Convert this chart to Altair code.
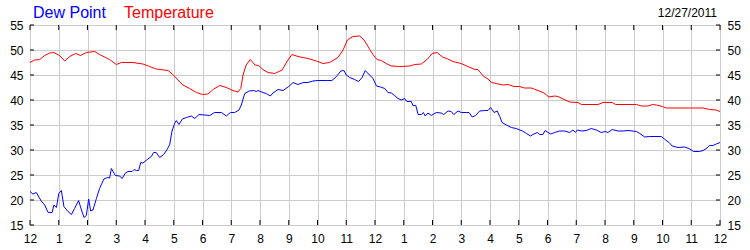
import altair as alt
import pandas as pd

# ---- data ----
temp_hours = [0.0, 0.16, 0.34, 0.51, 0.68, 0.83, 1.03, 1.21, 1.38, 1.59, 1.76, 1.96, 2.25, 2.42, 2.77, 3.0,
              3.18, 3.58, 3.93, 4.16, 4.39, 4.8, 4.97, 5.15, 5.32, 5.55, 5.79, 6.0, 6.19, 6.39, 6.6, 6.83,
              7.06, 7.23, 7.33, 7.41, 7.52, 7.66, 7.83, 7.95, 8.1, 8.28, 8.51, 8.77, 8.95, 9.11, 9.32, 9.67,
              9.96, 10.19, 10.42, 10.71, 10.89, 11.04, 11.23, 11.47, 11.62, 11.81, 11.93, 12.01, 12.07, 12.22,
              12.39, 12.57, 12.86, 13.21, 13.38, 13.61, 13.81, 13.99, 14.16, 14.37, 14.5, 14.71, 15.0, 15.23,
              15.47, 15.58, 15.78, 15.93, 16.05, 16.22, 16.45, 16.63, 16.83, 17.03, 17.2, 17.44, 17.67, 17.88,
              18.05, 18.25, 18.37, 18.54, 18.77, 19.06, 19.18, 19.76, 19.93, 20.25, 20.37, 21.09, 21.27, 21.5,
              21.65, 21.79, 22.0, 22.13, 23.41, 23.64, 23.87, 24.0]
temp_values = [47.5, 48.0, 48.1, 48.9, 49.4, 49.5, 48.9, 47.8, 48.7, 49.3, 48.9, 49.5, 49.7, 49.1, 48.1, 47.1,
               47.5, 47.5, 47.2, 46.7, 46.2, 45.9, 45.1, 44.0, 43.0, 42.3, 41.5, 41.1, 41.2, 42.2, 42.9, 42.5,
               41.9, 41.6, 42.3, 45.0, 47.0, 48.1, 47.0, 46.9, 46.1, 45.5, 45.3, 46.0, 47.8, 49.1, 48.7, 48.3,
               47.8, 47.3, 47.5, 48.5, 50.0, 52.0, 52.7, 52.8, 52.0, 50.2, 49.1, 48.5, 48.1, 47.9,
               47.3, 46.8, 46.7, 46.8, 47.1, 47.2, 48.1, 49.3, 49.5, 48.5, 48.3, 47.7, 47.3, 46.7,
               46.1, 46.1, 44.7, 44.2, 43.5, 43.3, 43.0, 43.1, 42.7, 42.7, 42.4, 42.4, 41.9, 41.4,
               40.6, 40.8, 40.7, 40.2, 39.6, 39.5, 39.1, 39.1, 39.5, 39.5, 39.1, 39.1, 38.8, 38.8,
               39.1, 39.0, 38.7, 38.4, 38.4, 38.1, 38.0, 37.7]

dew_hours = [0.0, 0.1, 0.22, 0.39, 0.51, 0.63, 0.77, 0.83, 0.92, 1.0, 1.09, 1.18, 1.32, 1.44, 1.55, 1.69,
             1.79, 1.88, 1.96, 2.04, 2.11, 2.19, 2.31, 2.42, 2.57, 2.69, 2.77, 2.83, 2.97, 3.12, 3.2, 3.32,
             3.41, 3.55, 3.62, 3.7, 3.78, 3.85, 3.93, 4.1, 4.22, 4.3, 4.39, 4.51, 4.65, 4.77, 4.86, 4.94,
             5.03, 5.09, 5.18, 5.3, 5.44, 5.61, 5.73, 5.88, 6.08, 6.25, 6.42, 6.66, 6.83, 6.97, 7.12, 7.27,
             7.35, 7.47, 7.62, 7.78, 7.87, 7.93, 8.1, 8.22, 8.36, 8.45, 8.63, 8.8, 9.0, 9.15, 9.32, 9.5,
             9.67, 9.84, 10.02, 10.31, 10.5, 10.66, 10.81, 10.92, 11.0, 11.12, 11.29, 11.43, 11.55, 11.66,
             11.81, 11.93, 12.05, 12.19, 12.34, 12.45, 12.57, 12.68, 12.8, 12.92, 13.03, 13.11, 13.26, 13.32,
             13.42, 13.5, 13.62, 13.68, 13.75, 13.84, 13.96, 14.13, 14.3, 14.39, 14.54, 14.65, 14.74, 14.89,
             15.0, 15.17, 15.27, 15.38, 15.5, 15.64, 15.81, 15.93, 16.02, 16.14, 16.25, 16.34, 16.42, 16.57,
             16.74, 16.91, 17.13, 17.27, 17.41, 17.49, 17.65, 17.73, 17.84, 17.92, 18.02, 18.11, 18.25, 18.42,
             18.6, 18.77, 18.89, 18.97, 19.04, 19.18, 19.35, 19.52, 19.7, 19.87, 20.01, 20.1, 20.25, 20.45,
             20.63, 20.8, 21.09, 21.21, 21.38, 21.55, 21.96, 22.11, 22.23, 22.34, 22.54, 22.77, 22.92, 23.08,
             23.29, 23.41, 23.55, 23.64, 23.76, 23.87, 24.0]
dew_values = [21.7, 21.2, 21.5, 19.8, 19.0, 17.5, 17.5, 19.0, 18.5, 21.3, 21.9, 18.7, 17.7, 17.1, 18.3, 19.9,
              18.0, 16.5, 16.9, 20.2, 17.8, 18.0, 20.3, 22.3, 24.2, 24.5, 24.4, 26.3, 24.9, 24.8, 24.3, 25.4,
              25.7, 25.7, 26.1, 25.9, 25.9, 27.5, 27.4, 28.2, 28.7, 29.5, 29.5, 28.5, 29.1, 30.1, 31.1, 33.8,
              35.3, 35.9, 35.1, 36.2, 36.5, 36.8, 36.3, 37.1, 37.0, 36.9, 37.5, 37.5, 36.8, 37.5, 37.5, 38.0,
              39.0, 41.3, 41.8, 41.9, 41.7, 41.9, 41.5, 41.3, 40.8, 41.4, 42.1, 41.9, 42.7, 43.5, 43.1, 43.5,
              43.5, 43.8, 43.9, 43.9, 43.9, 44.7, 45.8, 45.9, 45.0, 44.5, 44.1, 43.7, 44.5, 45.9,
              45.0, 44.3, 42.8, 42.6, 42.3, 41.5, 41.4, 40.9, 40.3, 40.0, 40.3, 39.7, 39.7, 38.9,
              38.9, 37.1, 37.1, 37.5, 36.8, 37.4, 36.9, 37.5, 37.4, 37.1, 37.8, 37.7, 37.1, 37.8,
              37.5, 37.5, 37.5, 36.6, 36.9, 37.8, 37.9, 37.9, 38.5, 37.5, 37.8, 36.7, 35.5, 35.0,
              34.5, 34.3, 33.8, 33.3, 32.8, 33.1, 33.5, 33.1, 33.1, 33.9, 33.5, 33.2, 33.5, 33.8,
              33.8, 33.5, 34.0, 33.5, 34.0, 33.8, 33.9, 34.3, 34.0, 33.5, 33.7, 33.5, 34.1, 33.8,
              33.8, 33.9, 33.7, 33.3, 32.6, 32.7, 32.7, 32.0, 31.5, 30.8, 30.5, 30.6, 30.3, 29.7,
              29.7, 29.9, 30.4, 30.9, 30.9, 31.2, 31.5]

series_names = ["Dew Point", "Temperature"]
series_colors = ["#0000ff", "#ff0000"]
date_label = "12/27/2011"
x_ticks = list(range(0, 25))
y_ticks = [15, 20, 25, 30, 35, 40, 45, 50, 55]

# ---- build tables ----
df = pd.concat([
    pd.DataFrame({"series": series_names[0], "hour": dew_hours, "value": dew_values}),
    pd.DataFrame({"series": series_names[1], "hour": temp_hours, "value": temp_values}),
], ignore_index=True)
xt = pd.DataFrame({"hour": x_ticks})
yt = pd.DataFrame({"v": y_ticks})

W, H = 690, 200
FONT = "Liberation Sans"
xscale = alt.Scale(domain=[0, 24], nice=False)
yscale = alt.Scale(domain=[15, 55], nice=False)

x_axis = alt.Axis(values=x_ticks, title=None, grid=True, ticks=False, domain=False,
                  labelPadding=8, labelFlush=False,
                  labelExpr="datum.value % 12 == 0 ? '12' : '' + (datum.value % 12)")

lines = alt.Chart(df).mark_line(strokeWidth=1, clip=True).encode(
    x=alt.X("hour:Q", scale=xscale, axis=x_axis),
    y=alt.Y("value:Q", scale=yscale,
            axis=alt.Axis(values=y_ticks, title=None, grid=True, ticks=False, domain=False,
                          orient="left", labelPadding=7)),
    color=alt.Color("series:N", scale=alt.Scale(domain=series_names, range=series_colors), legend=None),
    detail="series:N",
)

tick_top = alt.Chart(xt).mark_rule(color="black", strokeWidth=1).encode(
    x=alt.X("hour:Q", scale=xscale, axis=x_axis), y=alt.value(0), y2=alt.value(5))
tick_bot = alt.Chart(xt).mark_rule(color="black", strokeWidth=1).encode(
    x=alt.X("hour:Q", scale=xscale, axis=x_axis), y=alt.value(H - 5), y2=alt.value(H))
tick_left = alt.Chart(yt).mark_rule(color="black", strokeWidth=1).encode(
    y=alt.Y("v:Q", scale=yscale, axis=None), x=alt.value(0), x2=alt.value(4))
tick_right = alt.Chart(yt).mark_rule(color="black", strokeWidth=1).encode(
    y=alt.Y("v:Q", scale=yscale,
            axis=alt.Axis(values=y_ticks, title=None, grid=False, ticks=False, domain=False,
                          orient="right", labelPadding=7)),
    x=alt.value(W - 4), x2=alt.value(W))

legend_df = pd.DataFrame({"name": series_names, "color": series_colors, "pos": [3, 94]})
legend_text = alt.Chart(legend_df).mark_text(
    font=FONT, fontSize=16, align="left", baseline="alphabetic").encode(
    x=alt.X("pos:Q", scale=None), y=alt.value(-7), text="name:N",
    color=alt.Color("color:N", scale=None))

date_text = alt.Chart(pd.DataFrame({"d": [date_label]})).mark_text(
    font=FONT, fontSize=12, align="right", baseline="alphabetic", color="black").encode(
    x=alt.value(W - 3), y=alt.value(-8), text="d:N")

chart = alt.layer(
    lines, tick_top, tick_bot, tick_left, tick_right, legend_text, date_text
).resolve_axis(y="independent").properties(
    width=W, height=H,
    autosize=alt.AutoSizeParams(type="none"),
    padding={"left": 30, "top": 25, "right": 30, "bottom": 25},
).configure_view(
    stroke="black", strokeWidth=1
).configure_axis(
    labelFont=FONT, labelFontSize=12, labelColor="black", gridColor="#cccccc", gridWidth=1
)

chart.save("out.html", embed_options={"renderer": "svg", "actions": False})
